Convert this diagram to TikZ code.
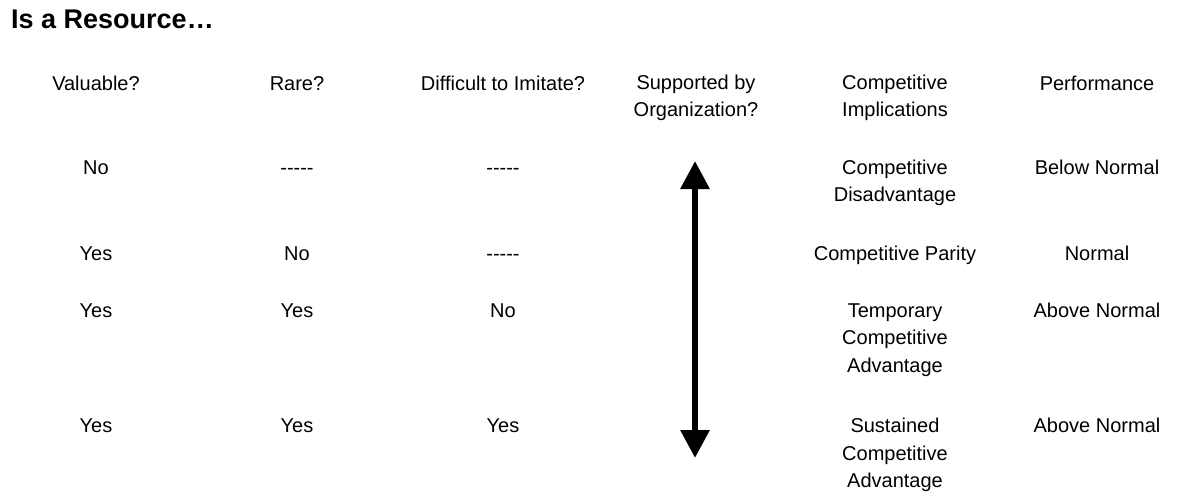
\documentclass[tikz,border=0pt]{standalone}
\usepackage{fontspec}
\setmainfont{Liberation Sans}
\usetikzlibrary{arrows.meta}
\tikzset{
  txt/.style={inner sep=0pt, align=center, font=\fontsize{20}{27.5}\selectfont},
  one/.style={txt, anchor=base},
  ttl/.style={inner sep=0pt, anchor=base west, font=\fontsize{27}{30}\selectfont\bfseries},
  bigarrow/.style={line width=6pt, {Triangle[width=28pt,length=28pt]}-{Triangle[width=28pt,length=28pt]}}
}
\newcommand{\nodash}{{-}{-}{-}{-}{-}}
\begin{document}
\begin{tikzpicture}[x=1pt,y=-1pt]
\useasboundingbox (0,0) rectangle (1190,495);
\node[ttl] (title) at (11,28.5) {Is a Resource\ldots};
% headers
\node[one] (h1) at (96,90) {Valuable?};
\node[one] (h2) at (297,90) {Rare?};
\node[one] (h3) at (503,90) {Difficult to Imitate?};
\node[txt] (h4) at (696,98) {Supported by\\Organization?};
\node[txt] (h5) at (895,98) {Competitive\\Implications};
\node[one] (h6) at (1097,90) {Performance};
% row 1
\node[one] (a1) at (96,174) {No};
\node[one] (b1) at (297,174) {\nodash};
\node[one] (c1) at (503,174) {\nodash};
\node[txt] (e1) at (895,183) {Competitive\\Disadvantage};
\node[one] (f1) at (1097,174) {Below Normal};
% row 2
\node[one] (a2) at (96,260) {Yes};
\node[one] (b2) at (297,260) {No};
\node[one] (c2) at (503,260) {\nodash};
\node[one] (e2) at (895,260) {Competitive Parity};
\node[one] (f2) at (1097,260) {Normal};
% row 3
\node[one] (a3) at (96,317) {Yes};
\node[one] (b3) at (297,317) {Yes};
\node[one] (c3) at (503,317) {No};
\node[txt] (e3) at (895,340) {Temporary\\Competitive\\Advantage};
\node[one] (f3) at (1097,317) {Above Normal};
% row 4
\node[one] (a4) at (96,432) {Yes};
\node[one] (b4) at (297,432) {Yes};
\node[one] (c4) at (503,432) {Yes};
\node[txt] (e4) at (895,455) {Sustained\\Competitive\\Advantage};
\node[one] (f4) at (1097,432) {Above Normal};
% arrow
\coordinate (atop) at (695,161);
\coordinate (abot) at (695,458);
\draw[bigarrow] (atop) -- (abot);
\end{tikzpicture}
\end{document}
